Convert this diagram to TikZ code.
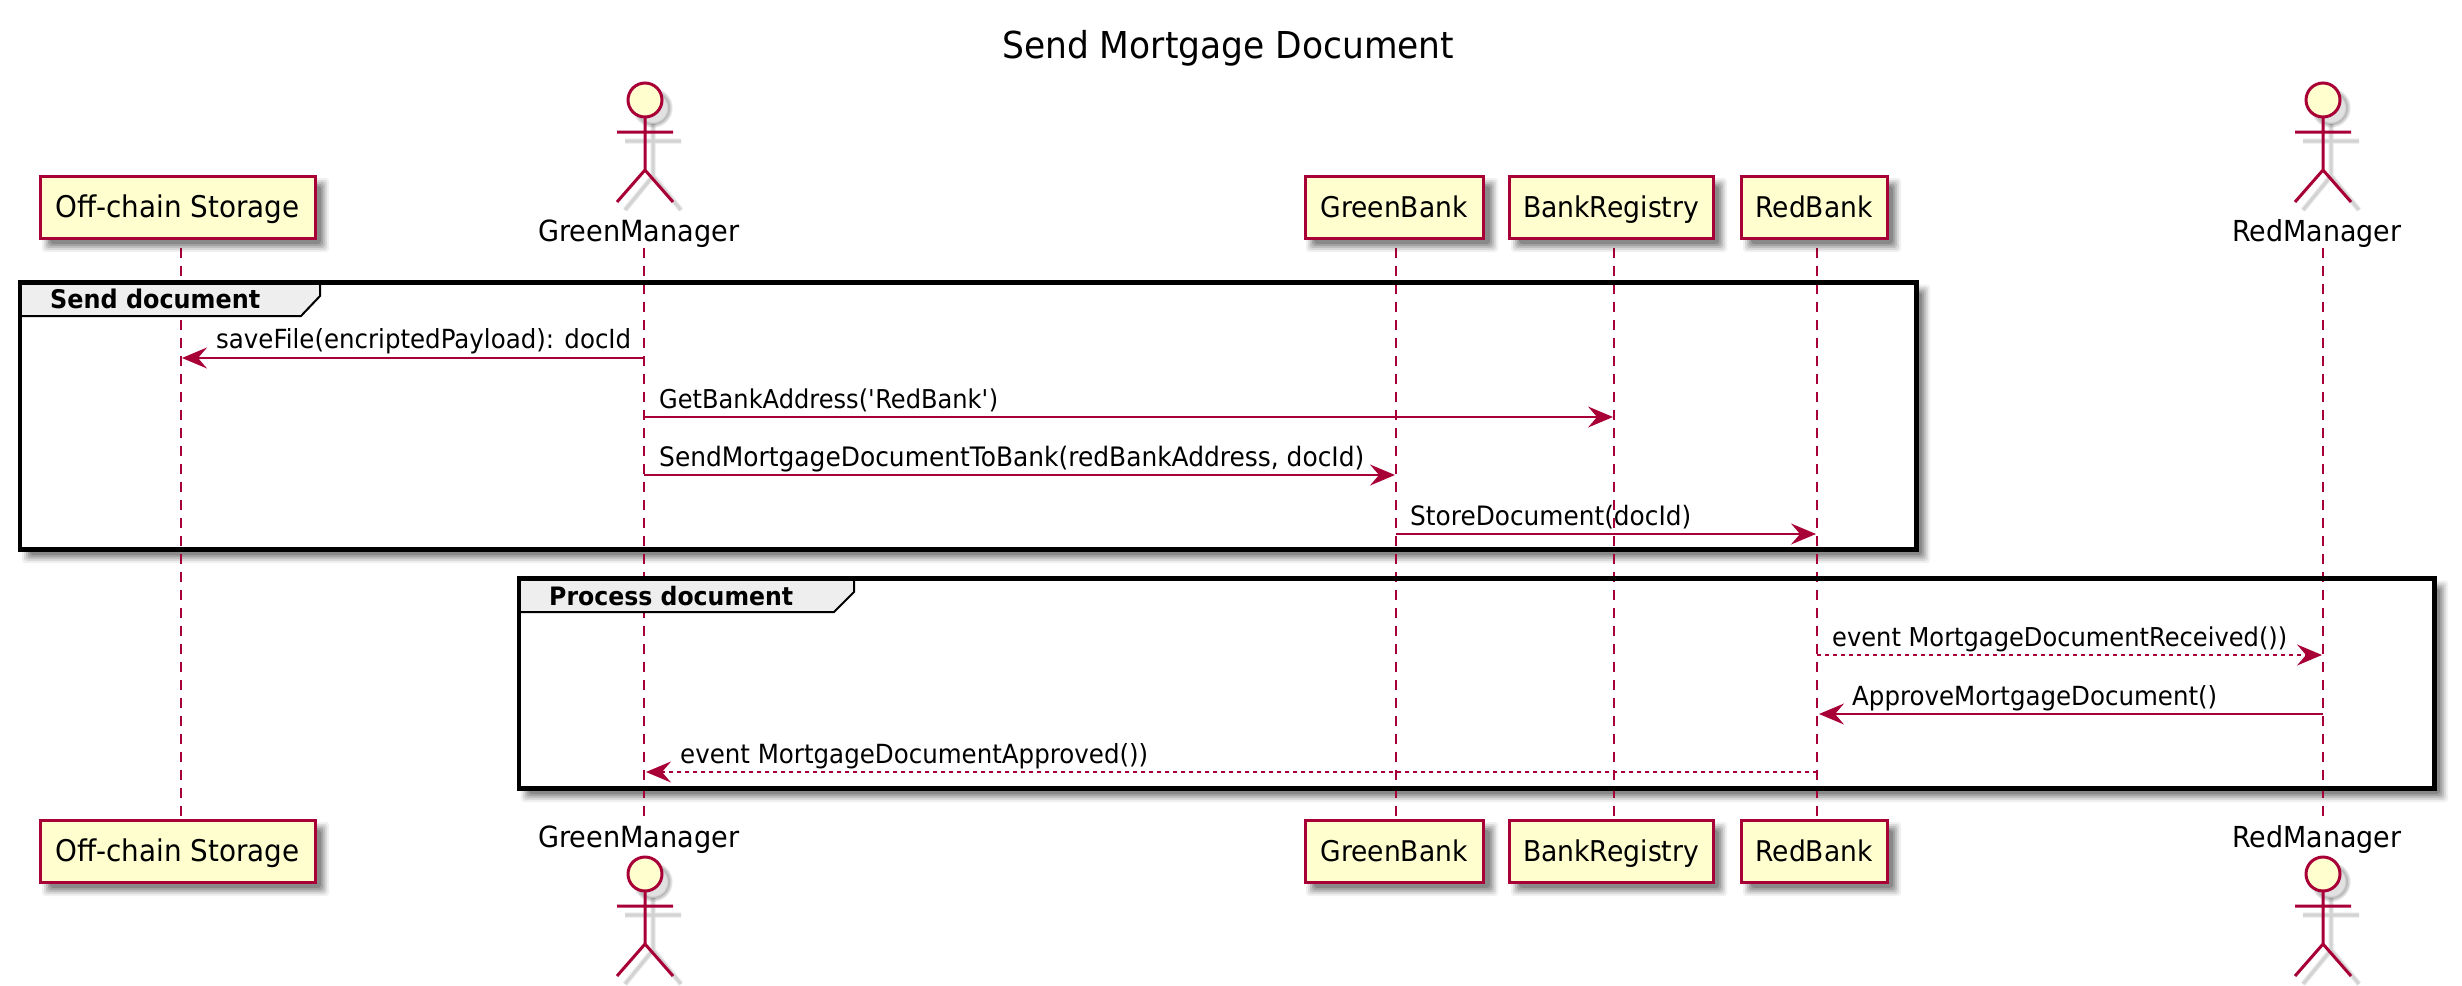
\documentclass[tikz,border=0pt]{standalone}
\usepackage{fontspec}
\setmainfont[FakeStretch=0.93]{DejaVu Sans}
\usetikzlibrary{arrows.meta}
\definecolor{pu}{HTML}{A80036}
\definecolor{pubg}{HTML}{FEFECE}
\definecolor{tabg}{HTML}{EEEEEE}
\newcommand{\fw}[2]{\resizebox{#1pt}{!}{\strut #2}}
\newcommand{\softshadow}[4]{% x1 y1 x2 y2
  \foreach \e/\o in {6/.06,4/.09,2/.12,0/.14,-2/.16}{
    \fill[black,opacity=\o,rounded corners=3pt] (#1+8-\e,#2+8-\e) rectangle (#3+8+\e,#4+8+\e);}}
\tikzset{
  x=1pt,y=-1pt,
  part/.style={draw=pu,fill=pubg,line width=3pt,inner sep=0pt,text height=26pt,text depth=6pt,minimum height=62pt,align=center,font=\fontsize{25}{30}\selectfont},
  lbl/.style={inner sep=0pt,anchor=base west,font=\fontsize{25}{30}\selectfont},
  grp/.style={fill=white,draw=none,inner sep=0pt,anchor=north west},
  life/.style={draw=pu,line width=2pt,dash pattern=on 10pt off 8pt},
  msg/.style={draw=pu,line width=2pt,-{Stealth[length=25pt,width=21pt,inset=9pt,fill=pu]}},
  rsp/.style={msg,dash pattern=on 4pt off 4pt},
}
\newcommand{\actor}[2]{% x, head top
  \foreach \w/\o in {6/.04,4.5/.06,3/.08}{
  \draw[black,opacity=\o,line width=\w pt,line cap=butt,fill=black,fill opacity=.04] (#1+8,#2+17+8) ellipse (17 and 17);
  \draw[black,opacity=\o,line width=\w pt,line cap=butt] (#1-20,#2+49+9)--(#1+36,#2+49+9) (#1+8,#2+41)--(#1+8,#2+87+6) (#1+8,#2+87+6)--(#1-20,#2+119+8) (#1+8,#2+87+6)--(#1+36,#2+119+8);}
  \draw[pu,fill=pubg,line width=3pt] (#1,#2+17) ellipse (17 and 17);
  \draw[pu,line width=3pt] (#1-28,#2+49)--(#1+28,#2+49) (#1,#2+34)--(#1,#2+87) (#1,#2+87)--(#1-28,#2+119) (#1,#2+87)--(#1+28,#2+119);
}
\begin{document}
\begin{tikzpicture}
\useasboundingbox (0,0) rectangle (2462,985);
\fill[white] (0,0) rectangle (2462,985);
% title
\node[lbl,font=\fontsize{34}{40}\selectfont] (title) at (1002,58) {\fw{452}{Send Mortgage Document}};
% groups
\softshadow{20}{282.5}{1916}{549}
\softshadow{518.7}{578.5}{2434}{788}
\node[grp,minimum width=1896pt,minimum height=266.5pt] (g1) at (20,282.5) {};
\node[grp,minimum width=1915.3pt,minimum height=209.5pt] (g2) at (518.7,578.5) {};
% lifeline ends
\coordinate (oT) at (180.5,248); \coordinate (oB) at (180.5,820);
\coordinate (gmT) at (644,248); \coordinate (gmB) at (644,820);
\coordinate (gbT) at (1396,248); \coordinate (gbB) at (1396,820);
\coordinate (brT) at (1614,248); \coordinate (brB) at (1614,820);
\coordinate (rbT) at (1817,248); \coordinate (rbB) at (1817,820);
\coordinate (rmT) at (2323,248); \coordinate (rmB) at (2323,820);
\foreach \n in {o,gm,gb,br,rb,rm}{\draw[life] (\n T)--(\n B);}
% tabs
\draw[fill=tabg,draw=black,line width=2pt] (g1.north west)--(320,282.5)--(320,296)--(301,316)--(20,316)--cycle;
\draw[fill=tabg,draw=black,line width=2pt] (g2.north west)--(854,578.5)--(854,592)--(834,612)--(518.7,612)--cycle;
\draw[draw=black,line width=4.4pt] (g1.north west) rectangle (g1.south east);
\draw[draw=black,line width=4.4pt] (g2.north west) rectangle (g2.south east);
\node[lbl,font=\bfseries\fontsize{24}{30}\selectfont] (g1t) at (50,308) {\fw{210}{Send document}};
\node[lbl,font=\bfseries\fontsize{24}{30}\selectfont] (g2t) at (549,605) {\fw{244}{Process document}};
% participants
\softshadow{40}{176}{315}{238}\softshadow{1304}{176}{1484}{238}\softshadow{1509}{176}{1713}{238}\softshadow{1741}{176}{1887}{238}
\softshadow{40}{820}{315}{882}\softshadow{1304}{820}{1484}{882}\softshadow{1509}{820}{1713}{882}\softshadow{1741}{820}{1887}{882}
\foreach \y/\s in {207/T,851/B}{
\node[part,minimum width=275pt] (off\s) at (177.5,\y) {\fw{244}{Off-chain Storage}};
\node[part,minimum width=178pt] (gbank\s) at (1394,\y) {\fw{147}{GreenBank}};
\node[part,minimum width=204pt] (breg\s) at (1611,\y) {\fw{176}{BankRegistry}};
\node[part,minimum width=146pt] (rbank\s) at (1814,\y) {\fw{117}{RedBank}};
}
% actors
\actor{645}{83}\actor{2323}{83}
\actor{645}{857}\actor{2323}{857}
\node[lbl] (gmLt) at (538,241) {\fw{201}{GreenManager}};
\node[lbl] (rmLt) at (2232,241) {\fw{169}{RedManager}};
\node[lbl] (gmLb) at (538,847) {\fw{201}{GreenManager}};
\node[lbl] (rmLb) at (2232,847) {\fw{169}{RedManager}};
% messages
\coordinate (m1a) at (644,358); \coordinate (m1b) at (182,358);
\coordinate (m2a) at (644,417); \coordinate (m2b) at (1613,417);
\coordinate (m3a) at (644,475); \coordinate (m3b) at (1395,475);
\coordinate (m4a) at (1396,534); \coordinate (m4b) at (1816,534);
\coordinate (m5a) at (1817,655); \coordinate (m5b) at (2322,655);
\coordinate (m6a) at (2323,714); \coordinate (m6b) at (1819,714);
\coordinate (m7a) at (1817,772); \coordinate (m7b) at (646,772);
\draw[msg] (m1a)--(m1b);
\draw[msg] (m2a)--(m2b);
\draw[msg] (m3a)--(m3b);
\draw[msg] (m4a)--(m4b);
\draw[rsp] (m5a)--(m5b);
\draw[msg] (m6a)--(m6b);
\draw[rsp] (m7a)--(m7b);
\node[lbl] (t1) at (216,348) {\fw{415}{saveFile(encriptedPayload): docId}};
\node[lbl] (t2) at (659,408) {\fw{339}{GetBankAddress(\textquotesingle RedBank\textquotesingle)}};
\node[lbl] (t3) at (659,466) {\fw{705}{SendMortgageDocumentToBank(redBankAddress, docId)}};
\node[lbl] (t4) at (1410,525) {\fw{281}{StoreDocument(docId)}};
\node[lbl] (t5) at (1832,646) {\fw{455}{event MortgageDocumentReceived())}};
\node[lbl] (t6) at (1852,705) {\fw{365}{ApproveMortgageDocument()}};
\node[lbl] (t7) at (680,763) {\fw{468}{event MortgageDocumentApproved())}};
\end{tikzpicture}
\end{document}
